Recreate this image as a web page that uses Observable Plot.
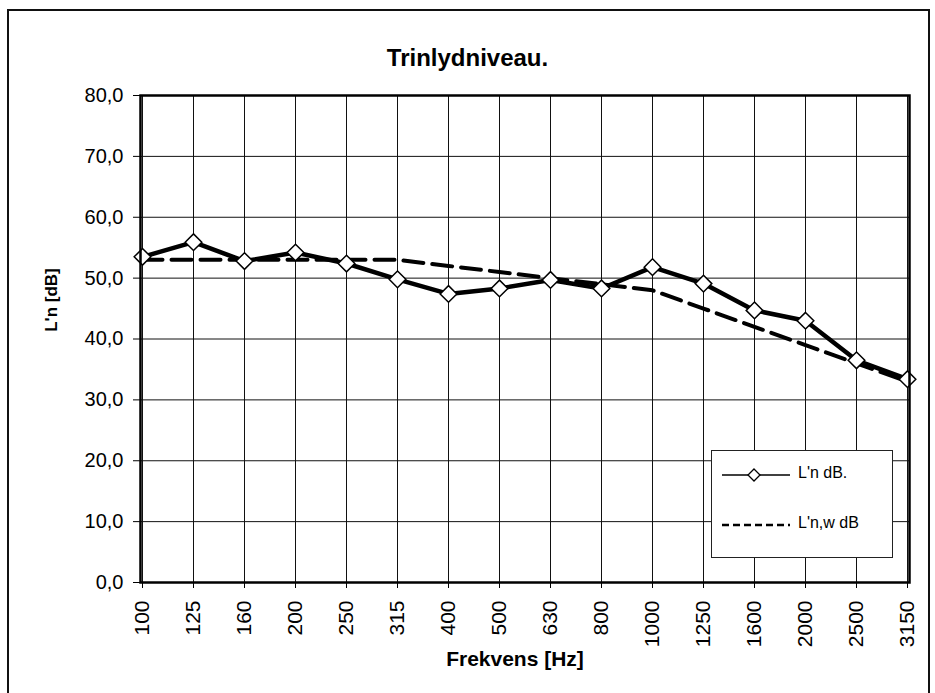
<!DOCTYPE html>
<html>
<head>
<meta charset="utf-8">
<script src="https://cdn.jsdelivr.net/npm/d3@7"></script>
<script src="https://cdn.jsdelivr.net/npm/@observablehq/plot@0.6"></script>
<style>
  html, body { margin: 0; padding: 0; background: #fff; overflow: hidden; }
  #wrap { position: relative; width: 935px; height: 693px; font-family: "Liberation Sans", Arial, sans-serif; color: #000; }
  #border { position: absolute; left: 7px; top: 9px; width: 923px; height: 700px; border: 2px solid #111; box-sizing: border-box; }
  #title { position: absolute; left: 0; width: 935px; top: 44px; text-align: center; font-weight: bold; font-size: 24px; }
  #ylab { position: absolute; left: 52px; top: 300px; transform: translate(-50%, -50%) rotate(-90deg); font-weight: bold; font-size: 17px; white-space: nowrap; }
  #xlab { position: absolute; left: 0; width: 1030px; top: 647px; text-align: center; font-weight: bold; font-size: 21px; }
  #legend { position: absolute; left: 711px; top: 450px; width: 182px; height: 108px; border: 1px solid #222; background: #fff; box-sizing: border-box; }
  #legend .t { position: absolute; left: 86px; font-size: 16px; }
  #chart { position: absolute; left: 0; top: 0; }
</style>
</head>
<body>
<div id="wrap">
  <div id="chart"></div>
  <div id="border"></div>
  <div id="title">Trinlydniveau.</div>
  <div id="ylab">L'n [dB]</div>
  <div id="xlab">Frekvens [Hz]</div>
  <div id="legend">
    <svg width="182" height="108" style="position:absolute;left:0;top:0">
      <line x1="10" y1="24" x2="78" y2="24" stroke="#000" stroke-width="1.5"/>
      <path d="M42,18 L48,24 L42,30 L36,24 Z" fill="#fff" stroke="#000" stroke-width="1.3"/>
      <line x1="10" y1="74" x2="78" y2="74" stroke="#000" stroke-width="2.5" stroke-dasharray="7,4"/>
    </svg>
    <div class="t" style="top:13px">L'n dB.</div>
    <div class="t" style="top:63px">L'n,w dB</div>
  </div>
</div>
<script>
const freqs = ["100","125","160","200","250","315","400","500","630","800","1000","1250","1600","2000","2500","3150"];
const lnValues = [53.5, 55.9, 52.8, 54.2, 52.4, 49.8, 47.4, 48.3, 49.7, 48.3, 51.8, 49.1, 44.7, 43.0, 36.5, 33.4];
const lnwValues = [53, 53, 53, 53, 53, 53, 52, 51, 50, 49, 48, 45, 42, 39, 36, 33];
const yTicks = [0, 10, 20, 30, 40, 50, 60, 70, 80];

const ln = freqs.map((f, i) => ({f, v: lnValues[i]}));
const lnw = freqs.map((f, i) => ({f, v: lnwValues[i]}));

const fmt = d => d.toFixed(1).replace(".", ",");

const chart = Plot.plot({
  width: 935,
  height: 693,
  marginLeft: 140,
  marginRight: 26,
  marginTop: 95,
  marginBottom: 111,
  style: {fontFamily: "'Liberation Sans', Arial, sans-serif", fontSize: "20px", color: "#000", background: "transparent", overflow: "visible"},
  x: {type: "point", domain: freqs, padding: 0, label: null},
  y: {domain: [0, 80], label: null},
  marks: [
    Plot.gridX(freqs, {stroke: "#111", strokeOpacity: 1, strokeWidth: 1}),
    Plot.gridY(yTicks, {stroke: "#111", strokeOpacity: 1, strokeWidth: 1}),
    Plot.axisY(yTicks, {tickFormat: fmt, tickSize: 7, tickPadding: 10, stroke: "#000", fontSize: 20, label: null}),
    Plot.axisX(freqs, {tickRotate: -90, tickSize: 6, tickPadding: 12, stroke: "#000", fontSize: 21, label: null}),
    Plot.line(lnw, {x: "f", y: "v", stroke: "#000", strokeWidth: 4, strokeDasharray: "20,9"}),
    Plot.line(ln, {x: "f", y: "v", stroke: "#000", strokeWidth: 4.5}),
    Plot.dot(ln, {x: "f", y: "v", symbol: "diamond2", r: 7.5, fill: "#fff", stroke: "#000", strokeWidth: 1.5}),
    Plot.frame({stroke: "#000", strokeWidth: 2.5})
  ]
});
document.getElementById("chart").appendChild(chart);
</script>
</body>
</html>
